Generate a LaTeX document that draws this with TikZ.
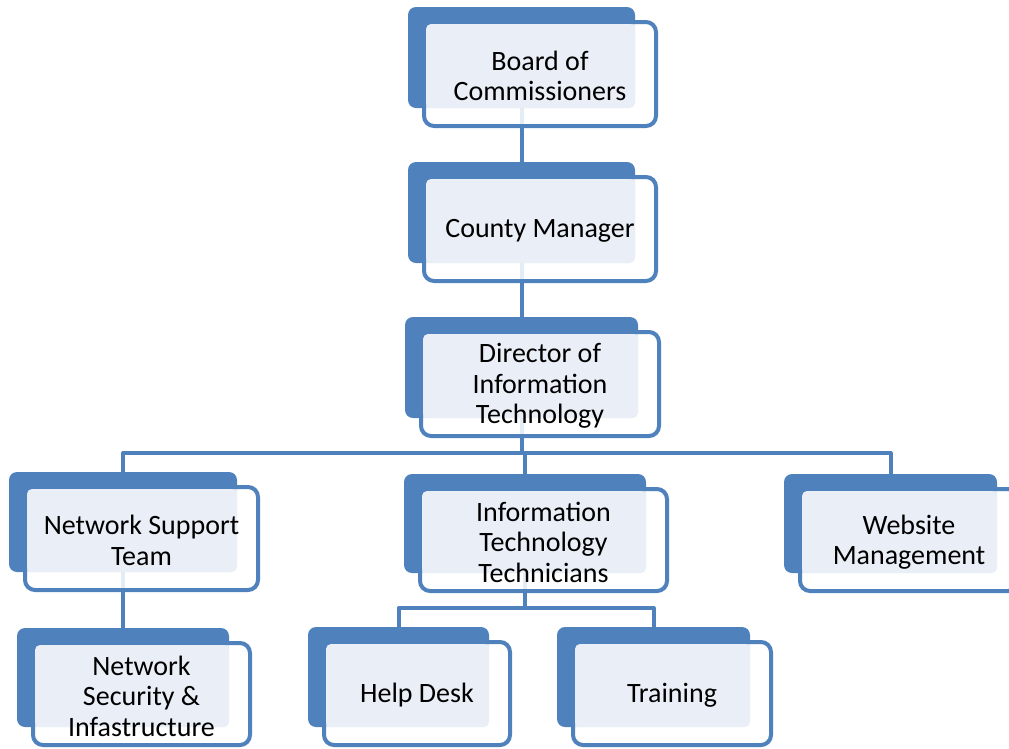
\documentclass[tikz,border=0pt]{standalone}
\usepackage{fontspec}
\setmainfont{Carlito}
\definecolor{obblue}{HTML}{4F81BD}
\definecolor{oblight}{HTML}{EAEFF7}
\pgfdeclarelayer{bg}
\pgfsetlayers{bg,main}
\tikzset{
  backbox/.style={rectangle, fill=obblue, rounded corners=8pt, inner sep=0pt, outer sep=0pt},
  frontbox/.style={rectangle, draw=obblue, line width=4pt, fill=white, fill opacity=0.85, rounded corners=10pt, inner sep=0pt, outer sep=0pt},
  lightbox/.style={fill=oblight, rounded corners=5pt},
  txt/.style={font=\fontsize{28}{30.5}\selectfont, align=center, text=black, inner sep=0pt, yshift=-2pt},
  conn/.style={draw=obblue, line width=4pt, line join=round},
}
\newcommand{\orgbox}[6]{%
  \node[backbox, minimum width={#4pt-#2pt}, minimum height={#5pt-#3pt}] (#1b) at ({(#2+#4)/2},{(#3+#5)/2}) {};
  \node[frontbox, minimum width={#4pt-#2pt+5pt}, minimum height={#5pt-#3pt+3pt}] (#1) at ({(#2+#4)/2+18.5},{(#3+#5)/2+16.5}) {};
  \fill[lightbox] ([xshift=2pt,yshift=-2pt]#1.north west) rectangle (#1b.south east);
  \node[txt] (#1t) at (#1.center) {#6};
}
\begin{document}
\begin{tikzpicture}[x=1pt,y=-1pt]
\useasboundingbox (0,0) rectangle (1009,748);
\clip (0,0) rectangle (1009,748);
\orgbox{board}{408}{7}{635}{108}{Board of\\Commissioners}
\orgbox{county}{408}{162}{635}{263}{County Manager}
\orgbox{dir}{405}{317}{638}{418}{Director of\\Information\\Technology}
\orgbox{nst}{9}{472}{237}{572}{Network Support\\Team}
\orgbox{itt}{404}{474}{646}{573}{Information\\Technology\\Technicians}
\orgbox{web}{784}{474}{997}{573}{Website\\Management}
\orgbox{nsi}{17}{628}{229}{727}{Network\\Security \&\\Infastructure}
\orgbox{help}{308}{627}{489}{727}{Help Desk}
\orgbox{train}{557}{627}{750}{727}{Training}
\begin{pgfonlayer}{bg}
  \coordinate (barA) at (0,453);
  \coordinate (barB) at (0,608);
  \draw[conn] (boardb.south) -- (countyb.north);
  \draw[conn] (countyb.south) -- (dirb.north);
  \draw[conn] (dirb.south) -- (dirb.south |- barA);
  \draw[conn] (nstb.north) -- (nstb.north |- barA) -- (webb.north |- barA) -- (webb.north);
  \draw[conn] (ittb.north) -- (ittb.north |- barA);
  \draw[conn] (nstb.south) -- (nsib.north);
  \draw[conn] (ittb.south) -- (ittb.south |- barB);
  \draw[conn] (helpb.north) -- (helpb.north |- barB) -- (trainb.north |- barB) -- (trainb.north);
\end{pgfonlayer}
\end{tikzpicture}
\end{document}
